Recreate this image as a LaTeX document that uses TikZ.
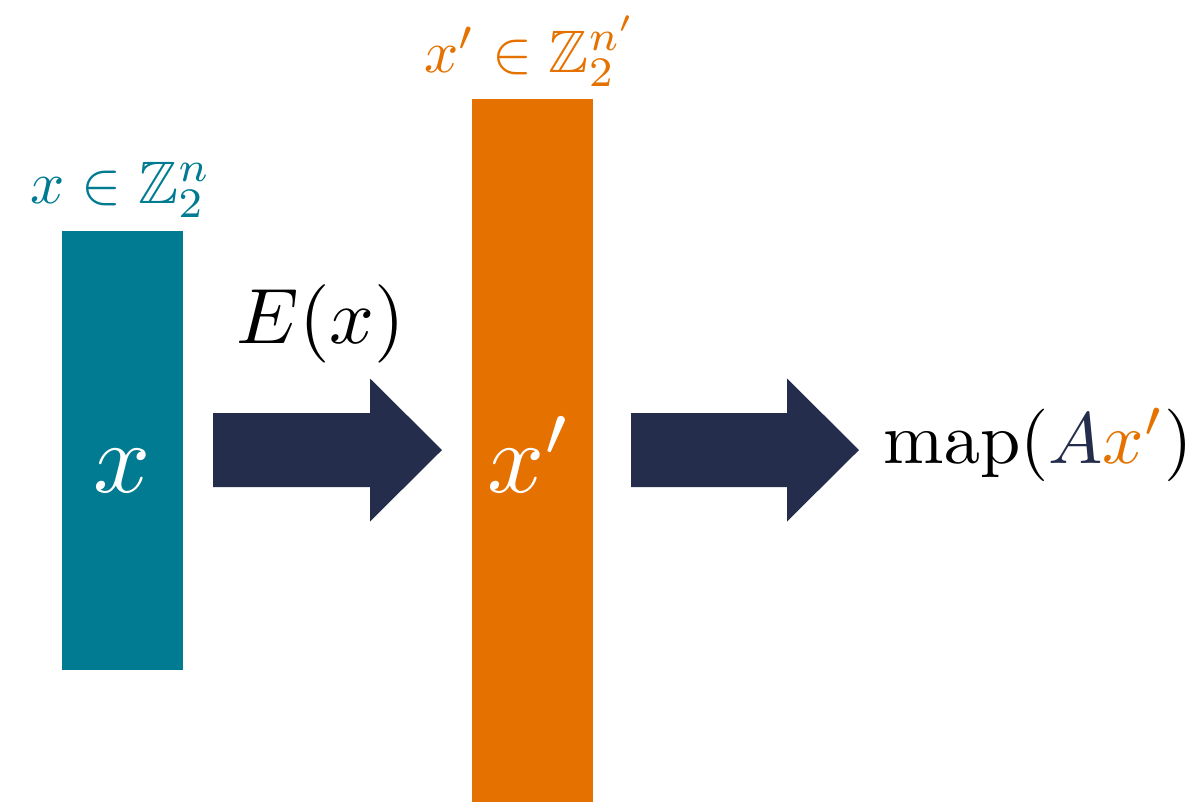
\documentclass[tikz,border=0pt]{standalone}
\usepackage{amssymb}
\usetikzlibrary{calc}
\definecolor{tealc}{RGB}{0,123,145}
\definecolor{orangec}{RGB}{229,114,0}
\definecolor{navyc}{RGB}{36,45,76}
\tikzset{
  blockbar/.style={fill=#1, draw=none, inner sep=0pt, outer sep=0pt, minimum width=24.2pt},
  txt/.style={inner sep=0pt, anchor=base},
  arrowfill/.style={fill=navyc, draw=none}
}
\newcommand{\blockarrow}[2]{%
  \path[arrowfill] ($(#1)+(0,-37)$) -- ($(#2)+(-72,-37)$) -- ($(#2)+(-72,-71.5)$) -- (#2)
    -- ($(#2)+(-72,71.5)$) -- ($(#2)+(-72,37)$) -- ($(#1)+(0,37)$) -- cycle;}
\begin{document}
\begin{tikzpicture}[x=0.2pt,y=-0.2pt]
\useasboundingbox (0,0) rectangle (1198,802);
% bars
\node[blockbar=tealc, minimum height=87.8pt] (xbar) at (122.5,450.5) {};
\node[blockbar=orangec, minimum height=140.6pt] (xpbar) at (532.5,450.5) {};
% labels
\node[txt, text=tealc, scale=1.2] (lab1) at (121,203) {$x \in \mathbb{Z}_2^n$};
\node[txt, text=orangec, scale=1.2] (lab2) at (531,72) {$x' \in \mathbb{Z}_2^{n'}$};
\node[txt, text=white, scale=2.0] (xin) at (122.5,492) {$x$};
\node[txt, text=white, scale=2.0] (xpin) at (530,492) {$x'$};
\node[txt, text=black, scale=1.57] (enc) at (321,343) {$E(x)$};
\node[txt, anchor=base west, text=black, scale=1.45] (map) at (882,463)
  {$\mathrm{map}(\textcolor{navyc}{A}\textcolor{orangec}{x'})$};
% arrows
\coordinate (a1s) at (213,450);
\coordinate (a1e) at (442,450);
\coordinate (a2s) at (631,450);
\coordinate (a2e) at (859,450);
\blockarrow{a1s}{a1e}
\blockarrow{a2s}{a2e}
\end{tikzpicture}
\end{document}
